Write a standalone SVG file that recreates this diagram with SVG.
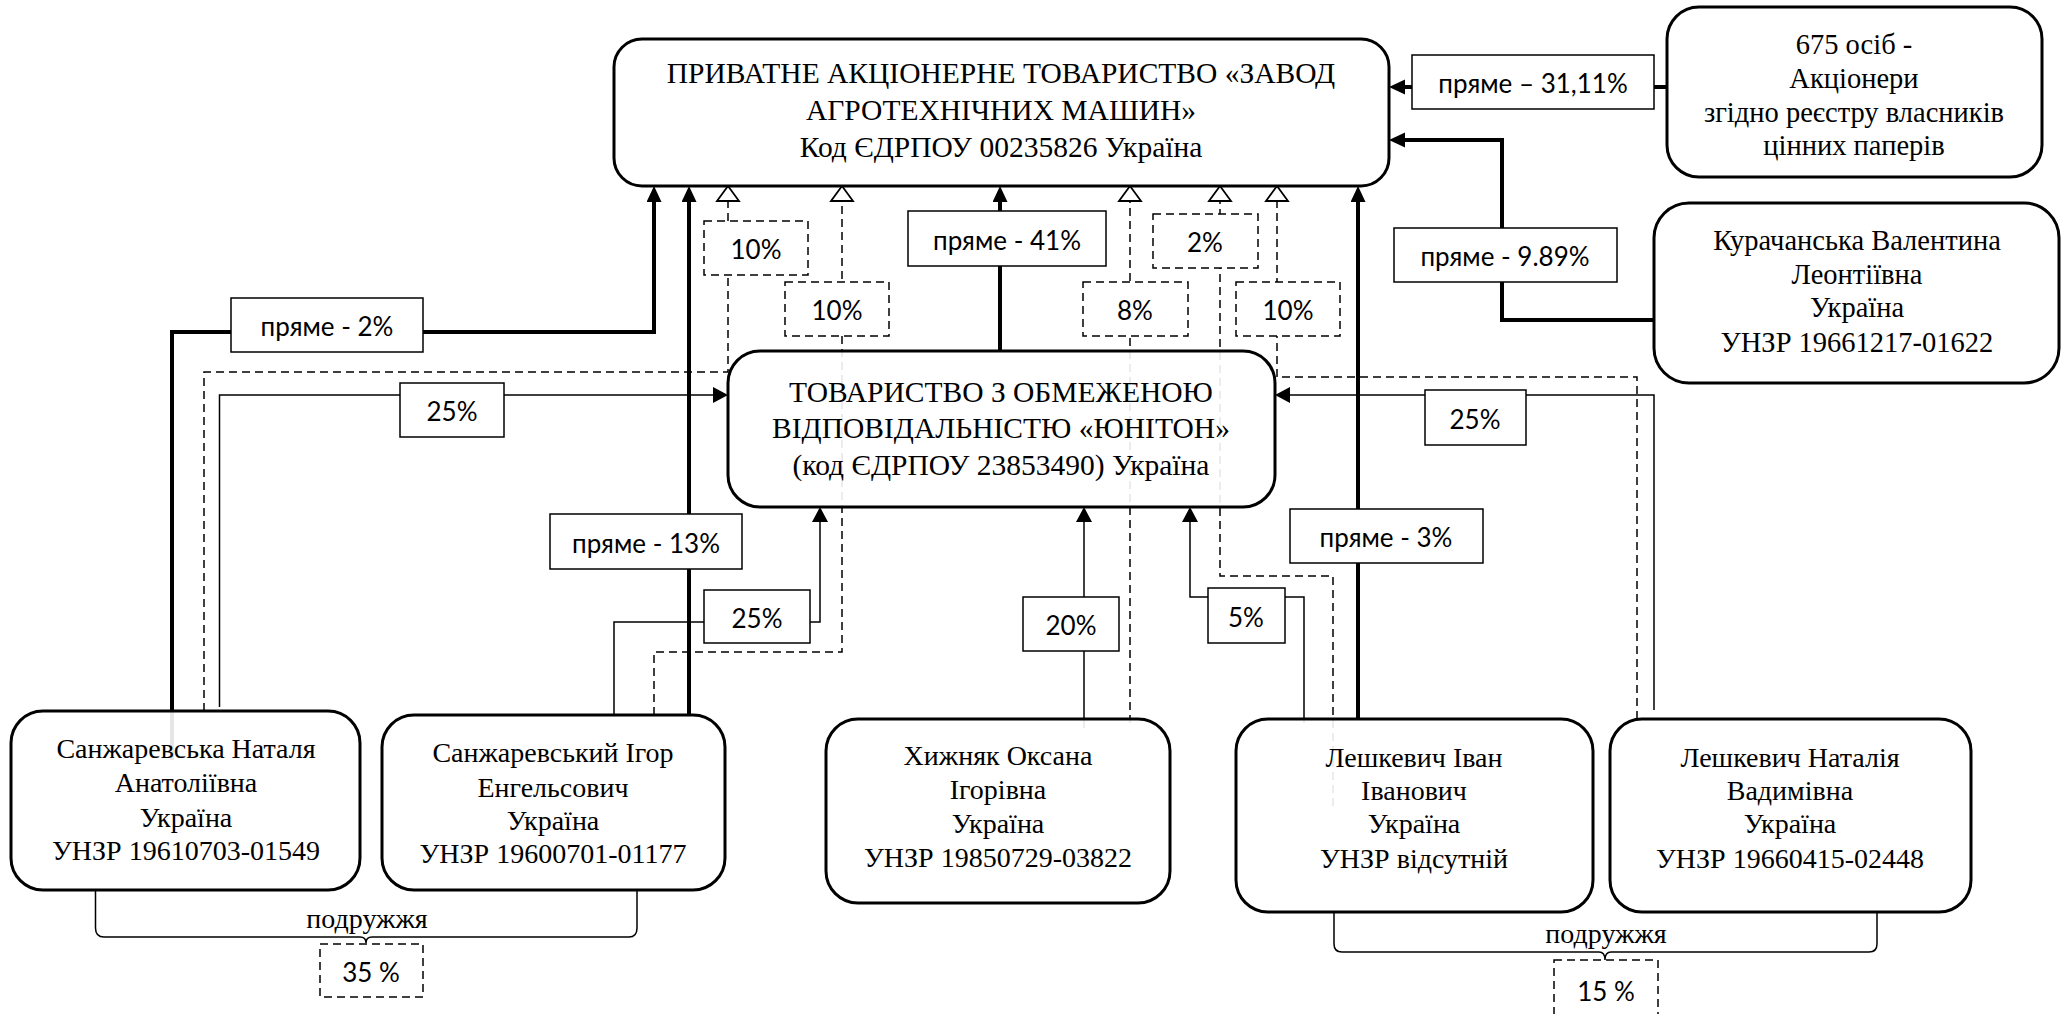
<svg xmlns="http://www.w3.org/2000/svg" width="2062" height="1014" viewBox="0 0 2062 1014">
<style>
.node rect{fill:#fff;fill-opacity:.9;stroke:#000;stroke-width:3}
.nt{font-family:"Liberation Serif","Times New Roman",serif;font-size:28px;text-anchor:middle;fill:#000}
.big{font-size:29.5px}
.mid{font-size:28.5px}
.lbl rect{fill:#fff;stroke:#000;stroke-width:1.5}
.lbl.d rect{stroke-dasharray:8 5}
.lt{font-family:Lato,"Liberation Sans",sans-serif;font-size:26px;text-anchor:middle;fill:#000}
.thick{stroke:#000;stroke-width:4;fill:none}
.thin{stroke:#000;stroke-width:1.5;fill:none}
.dash{stroke:#000;stroke-width:1.5;fill:none;stroke-dasharray:8 5}
</style>
<defs>
<marker id="ak" markerUnits="userSpaceOnUse" markerWidth="16" markerHeight="16" viewBox="0 0 16 16" refX="8" refY="7.5" orient="auto"><path d="M0,0 L16,7.5 L0,15 z" fill="#000"/></marker>
<marker id="an" markerUnits="userSpaceOnUse" markerWidth="16" markerHeight="17" viewBox="0 0 16 17" refX="9" refY="8" orient="auto"><path d="M0,0 L15,8 L0,16 z" fill="#000"/></marker>
<marker id="ao" markerUnits="userSpaceOnUse" markerWidth="18" markerHeight="26" viewBox="-1 -2 18 26" refX="0" refY="11" orient="auto"><path d="M0,0 L15,11 L0,22 z" fill="#fff" stroke="#000" stroke-width="1.8"/></marker>
</defs>

<g id="connectors">
<path class="thick" d="M172,760 V332 H654 V194" marker-end="url(#ak)"/>
<path class="thick" d="M689,715 V194" marker-end="url(#ak)"/>
<path class="thick" d="M1000,351 V194" marker-end="url(#ak)"/>
<path class="thick" d="M1358,719 V194" marker-end="url(#ak)"/>
<path class="thick" d="M1667,87 H1397" marker-end="url(#ak)"/>
<path class="thick" d="M1654,320 H1502 V140 H1397" marker-end="url(#ak)"/>

<path class="thin" d="M219.5,707 V395 H722" marker-end="url(#an)"/>
<path class="thin" d="M1654,710 V395 H1281" marker-end="url(#an)"/>
<path class="thin" d="M614,717 V622 H820 V513" marker-end="url(#an)"/>
<path class="thin" d="M1084,728 V513" marker-end="url(#an)"/>
<path class="thin" d="M1304,723 V597 H1190 V513" marker-end="url(#an)"/>

<path class="dash" d="M204,711 V372 H728 V201" marker-end="url(#ao)"/>
<path class="dash" d="M654,715 V652 H842 V201" marker-end="url(#ao)"/>
<path class="dash" d="M1130,723 V201" marker-end="url(#ao)"/>
<path class="dash" d="M1333,806 V576 H1220 V201" marker-end="url(#ao)"/>
<path class="dash" d="M1637,719 V377 H1277 V201" marker-end="url(#ao)"/>

<path class="thin" d="M95.5,890 V928 Q95.5,937 104,937 H360 Q366,937 366,943 Q366,937 372,937 H629 Q637,937 637,928 V890"/>
<path class="thin" d="M1334,912 V944 Q1334,952 1342,952 H1599 Q1605,952 1605,960 Q1605,952 1611,952 H1869 Q1877,952 1877,944 V912"/>
<text class="nt" x="367" y="928">подружжя</text>
<text class="nt" x="1606" y="943">подружжя</text>

<g class="lbl"><rect x="231" y="298" width="192" height="54"/><text class="lt" x="327" y="336">пряме - 2%</text></g>
<g class="lbl"><rect x="550" y="514" width="192" height="55"/><text class="lt" x="646" y="553">пряме - 13%</text></g>
<g class="lbl"><rect x="908" y="211" width="198" height="55"/><text class="lt" x="1007" y="250">пряме - 41%</text></g>
<g class="lbl"><rect x="1290" y="509" width="193" height="54"/><text class="lt" x="1386" y="547">пряме - 3%</text></g>
<g class="lbl"><rect x="1412" y="55" width="242" height="54"/><text class="lt" x="1533" y="93">пряме – 31,11%</text></g>
<g class="lbl"><rect x="1394" y="228" width="223" height="54"/><text class="lt" x="1505" y="266">пряме - 9.89%</text></g>
<g class="lbl"><rect x="400" y="383" width="104" height="54"/><text class="lt" x="452" y="421">25%</text></g>
<g class="lbl"><rect x="1425" y="390" width="101" height="55"/><text class="lt" x="1475" y="429">25%</text></g>
<g class="lbl"><rect x="704" y="590" width="106" height="53"/><text class="lt" x="757" y="628">25%</text></g>
<g class="lbl"><rect x="1023" y="597" width="96" height="54"/><text class="lt" x="1071" y="635">20%</text></g>
<g class="lbl"><rect x="1208" y="588" width="77" height="55"/><text class="lt" x="1246" y="627">5%</text></g>
<g class="lbl d"><rect x="704" y="221" width="104" height="54"/><text class="lt" x="756" y="259">10%</text></g>
<g class="lbl d"><rect x="785" y="282" width="104" height="54"/><text class="lt" x="837" y="320">10%</text></g>
<g class="lbl d"><rect x="1083" y="282" width="105" height="54"/><text class="lt" x="1135" y="320">8%</text></g>
<g class="lbl d"><rect x="1153" y="214" width="105" height="54"/><text class="lt" x="1205" y="252">2%</text></g>
<g class="lbl d"><rect x="1236" y="282" width="104" height="54"/><text class="lt" x="1288" y="320">10%</text></g>
<g class="lbl d"><rect x="320" y="944" width="103" height="53"/><text class="lt" x="371" y="982">35 %</text></g>
<g class="lbl d"><rect x="1554" y="960" width="104" height="60"/><text class="lt" x="1606" y="1001">15 %</text></g>
</g>

<g id="n-zat" class="node"><rect x="614" y="39" width="775" height="147" rx="28"/>
<text class="nt big" x="1001" y="83">ПРИВАТНЕ АКЦІОНЕРНЕ ТОВАРИСТВО «ЗАВОД</text>
<text class="nt big" x="1001" y="120">АГРОТЕХНІЧНИХ МАШИН»</text>
<text class="nt big" x="1001" y="157">Код ЄДРПОУ 00235826 Україна</text></g>

<g id="n-675" class="node"><rect x="1667" y="7" width="375" height="170" rx="32"/>
<text class="nt mid" x="1854" y="54">675 осіб -</text>
<text class="nt mid" x="1854" y="88">Акціонери</text>
<text class="nt mid" x="1854" y="122">згідно реєстру власників</text>
<text class="nt mid" x="1854" y="155">цінних паперів</text></g>

<g id="n-kurach" class="node"><rect x="1654" y="203" width="405" height="180" rx="35"/>
<text class="nt mid" x="1857" y="250">Курачанська Валентина</text>
<text class="nt mid" x="1857" y="284">Леонтіївна</text>
<text class="nt mid" x="1857" y="317">Україна</text>
<text class="nt mid" x="1857" y="352">УНЗР 19661217-01622</text></g>

<g id="n-uniton" class="node"><rect x="728" y="351" width="547" height="156" rx="32"/>
<text class="nt big" x="1001" y="402">ТОВАРИСТВО З ОБМЕЖЕНОЮ</text>
<text class="nt big" x="1001" y="438">ВІДПОВІДАЛЬНІСТЮ «ЮНІТОН»</text>
<text class="nt big" x="1001" y="475">(код ЄДРПОУ 23853490) Україна</text></g>

<g id="n-sanzh-n" class="node"><rect x="11" y="711" width="349" height="179" rx="32"/>
<text class="nt" x="186" y="758">Санжаревська Наталя</text>
<text class="nt" x="186" y="792">Анатоліївна</text>
<text class="nt" x="186" y="827">Україна</text>
<text class="nt" x="186" y="860">УНЗР 19610703-01549</text></g>

<g id="n-sanzh-i" class="node"><rect x="382" y="715" width="343" height="175" rx="32"/>
<text class="nt" x="553" y="762">Санжаревський Ігор</text>
<text class="nt" x="553" y="797">Енгельсович</text>
<text class="nt" x="553" y="830">Україна</text>
<text class="nt" x="553" y="863">УНЗР 19600701-01177</text></g>

<g id="n-khyzh" class="node"><rect x="826" y="719" width="344" height="184" rx="32"/>
<text class="nt" x="998" y="765">Хижняк Оксана</text>
<text class="nt" x="998" y="799">Ігорівна</text>
<text class="nt" x="998" y="833">Україна</text>
<text class="nt" x="998" y="867">УНЗР 19850729-03822</text></g>

<g id="n-leshk-i" class="node"><rect x="1236" y="719" width="357" height="193" rx="32"/>
<text class="nt" x="1414" y="767">Лешкевич Іван</text>
<text class="nt" x="1414" y="800">Іванович</text>
<text class="nt" x="1414" y="833">Україна</text>
<text class="nt" x="1414" y="868">УНЗР відсутній</text></g>

<g id="n-leshk-n" class="node"><rect x="1610" y="719" width="361" height="193" rx="32"/>
<text class="nt" x="1790" y="767">Лешкевич Наталія</text>
<text class="nt" x="1790" y="800">Вадимівна</text>
<text class="nt" x="1790" y="833">Україна</text>
<text class="nt" x="1790" y="868">УНЗР 19660415-02448</text></g>
</svg>
